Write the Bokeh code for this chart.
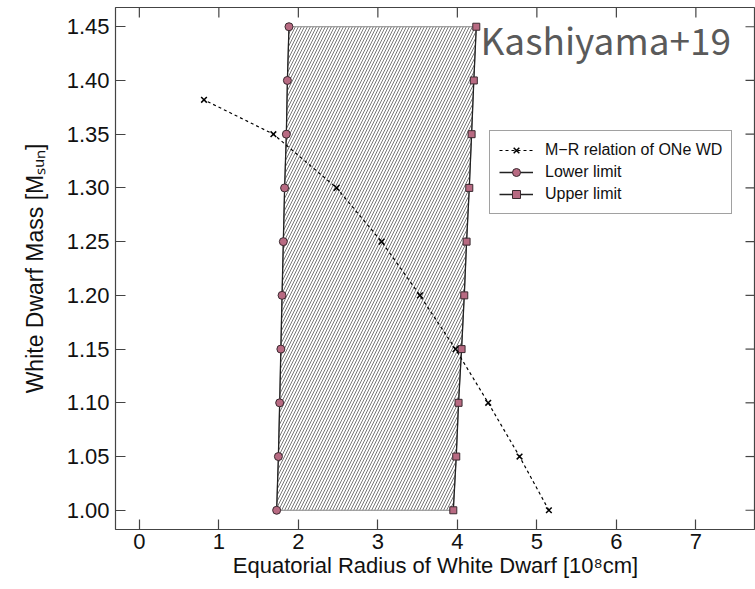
import math
from bokeh.plotting import figure
from bokeh.models import Range1d, FixedTicker, Label, Legend, LegendItem
from bokeh.embed import file_html
from bokeh.resources import INLINE

# ---- data ----
mass = [1.00, 1.05, 1.10, 1.15, 1.20, 1.25, 1.30, 1.35, 1.40, 1.45]
lower_r = [1.727, 1.749, 1.765, 1.780, 1.795, 1.811, 1.827, 1.849, 1.862, 1.882]
upper_r = [3.949, 3.986, 4.015, 4.053, 4.087, 4.116, 4.150, 4.179, 4.207, 4.238]
mr_mass = [1.00, 1.05, 1.10, 1.15, 1.20, 1.25, 1.30, 1.35, 1.382]
mr_radius = [5.151, 4.782, 4.388, 3.977, 3.529, 3.047, 2.481, 1.686, 0.813]

x_ticks = [0, 1, 2, 3, 4, 5, 6, 7]
y_ticks = [1.00, 1.05, 1.10, 1.15, 1.20, 1.25, 1.30, 1.35, 1.40, 1.45]
y_tick_labels = ["1.00", "1.05", "1.10", "1.15", "1.20", "1.25", "1.30", "1.35", "1.40", "1.45"]

FONT = "Liberation Sans"
MARK = "#b86a82"
X0, X1 = -0.3, 7.75
Y0, Y1 = 0.9821, 1.4679

p = figure(width=755, height=589, x_range=Range1d(X0, X1), y_range=Range1d(Y0, Y1),
           output_backend="svg", toolbar_location=None,
           min_border_left=115, min_border_right=0, min_border_top=7, min_border_bottom=60)
p.xgrid.visible = False
p.ygrid.visible = False
p.outline_line_color = "#444444"
p.outline_line_width = 1.2
p.background_fill_color = "white"
p.border_fill_color = "white"

# hatched region between limits
poly_x = lower_r + upper_r[::-1]
poly_y = mass + mass[::-1]
p.patch(poly_x, poly_y, fill_alpha=0, hatch_pattern="/", hatch_color="#777777",
        hatch_scale=6, hatch_weight=1, line_color="#888888", line_width=1)

# inward ticks on the right and top edges (half of each dash is clipped by the frame)
p.scatter([X1] * len(y_ticks), y_ticks, marker="dash", size=20, line_color="#444444", line_width=1.2)
p.scatter(x_ticks, [Y1] * len(x_ticks), marker="dash", angle=math.pi / 2, size=20,
          line_color="#444444", line_width=1.2)

# limit lines
l_line = p.line(lower_r, mass, line_color="#222222", line_width=1.3)
l_pts = p.scatter(lower_r, mass, marker="circle", size=8, fill_color=MARK, line_color="#3a2a30", line_width=1)
u_line = p.line(upper_r, mass, line_color="#222222", line_width=1.3)
u_pts = p.scatter(upper_r, mass, marker="square", size=7, fill_color=MARK, line_color="#3a2a30", line_width=1)

# M-R relation
mr_line = p.line(mr_radius, mr_mass, line_color="black", line_width=1.2, line_dash="3 3")
mr_pts = p.scatter(mr_radius, mr_mass, marker="x", size=8, line_color="black", line_width=1.5)

# axes
xb = p.xaxis[0]
xb.ticker = FixedTicker(ticks=x_ticks)
yl = p.yaxis[0]
yl.ticker = FixedTicker(ticks=y_ticks)
yl.major_label_overrides = {t: s for t, s in zip(y_ticks, y_tick_labels)}

for ax in (xb, yl):
    ax.axis_line_color = None
    ax.major_tick_in = 10
    ax.major_tick_out = 0
    ax.minor_tick_line_color = None
    ax.major_tick_line_color = "#444444"
    ax.major_tick_line_width = 1.2
    ax.major_label_text_font = FONT
    ax.major_label_text_font_size = "22px"
    ax.major_label_text_color = "#111111"
    ax.axis_label_text_font = FONT
    ax.axis_label_text_font_size = "22px"
    ax.axis_label_text_font_style = "normal"
    ax.axis_label_text_color = "#111111"

xb.major_label_standoff = 4
yl.major_label_standoff = 6
xb.axis_label = "Equatorial Radius of White Dwarf [10\u2078cm]"
xb.axis_label_standoff = 1
yl.axis_label = "White Dwarf Mass [M\u209b\u1d64\u2099]"
yl.axis_label_text_font_size = "23px"
yl.axis_label_standoff = 16

# legend
legend = Legend(items=[
    LegendItem(label="M\u2212R relation of ONe WD", renderers=[mr_line, mr_pts]),
    LegendItem(label="Lower limit", renderers=[l_line, l_pts]),
    LegendItem(label="Upper limit", renderers=[u_line, u_pts]),
], location=(374, 315))
legend.label_text_font = FONT
legend.label_text_font_size = "16px"
legend.label_text_color = "#111111"
legend.glyph_width = 34
legend.glyph_height = 20
legend.label_height = 20
legend.spacing = 2
legend.padding = 9
legend.margin = 0
legend.label_standoff = 12
legend.border_line_color = "#444444"
legend.border_line_width = 1.2
legend.background_fill_color = "white"
legend.background_fill_alpha = 1
p.add_layout(legend)

p.add_layout(Label(x=4.29, y=1.439, text="Kashiyama+19", text_font="Noto Sans CJK JP",
                   text_font_size="37px", text_color="#5a5a5a", text_baseline="alphabetic"))

open("out.html", "w").write(file_html(p, INLINE))
